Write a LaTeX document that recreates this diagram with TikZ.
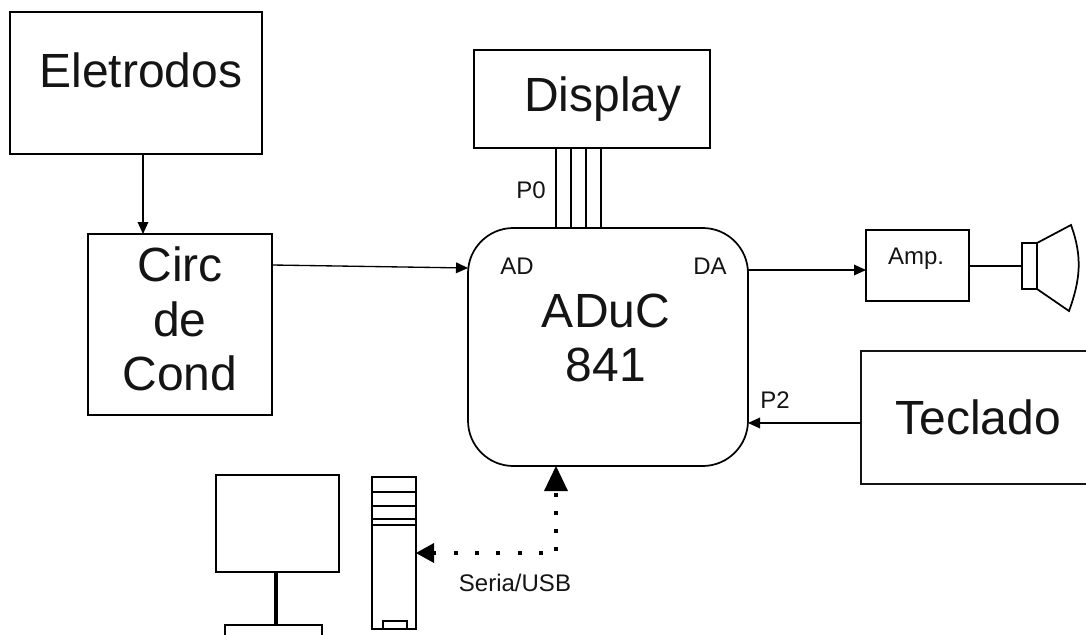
\documentclass[tikz,border=0pt]{standalone}
\usepackage{fontspec}
\setmainfont{Liberation Sans}
\usetikzlibrary{arrows.meta}
\definecolor{palette_texte}{HTML}{141414}
\tikzset{
    box/.style={draw,line width=1.3pt,inner sep=0pt,outer sep=0pt},
    bigtext/.style={color=palette_texte,inner sep=0pt,align=center,font=\fontsize{36pt}{41pt}\selectfont},
    smalltext/.style={color=palette_texte,inner sep=0pt,font=\fontsize{18pt}{21pt}\selectfont},
    signal/.style={line width=1pt,-{Triangle[length=9pt,width=8pt]}},
    serial/.style={line width=3pt}
}
\begin{document}
\begin{tikzpicture}[x=0.75pt,y=-0.75pt]
    \clip (0,0) rectangle (1086,635);

    \node[box,minimum width=189pt,minimum height=106.5pt] (eletrodos) at (136,83) {};
    \node[bigtext] (eletrodos_txt) at (141,70) {Eletrodos};
    \node[box,minimum width=177pt,minimum height=73.5pt] (display) at (592,99) {};
    \node[bigtext] (display_txt) at (603,99) {Display};
    \node[box,minimum width=138pt,minimum height=135.75pt] (circ) at (180,324.5) {};
    \node[bigtext] (circ_txt) at (180,319) {Circ\\de\\Cond};
    \node[box,minimum width=210pt,minimum height=178.5pt,rounded corners=34pt] (mcu) at (608,347) {};
    \node[bigtext] (mcu_txt) at (606,338) {ADuC\\841};
    \node[box,minimum width=77.25pt,minimum height=53.25pt] (amp) at (917.5,265.5) {};
    \node[smalltext] (amp_txt) at (916,259) {Amp.};
    \node[box,bigtext,minimum width=175.5pt,minimum height=99.75pt] (teclado) at (978,417.5) {Teclado};

    \node[smalltext] (ad) at (517,266) {AD};
    \node[smalltext] (da) at (710,266) {DA};
    \node[smalltext] (p0) at (531,190) {P0};
    \node[smalltext] (p2) at (775,400) {P2};
    \node[smalltext] (serial_txt) at (515,583) {Seria/USB};

    % computer
    \node[box,minimum width=92.25pt,minimum height=72.75pt] (monitor) at (277.5,523.5) {};
    \node[box,minimum width=72.75pt,minimum height=37.5pt] (base) at (273.5,650) {};
    \node[box,minimum width=33pt,minimum height=114pt] (tower) at (394,553) {};
    \node[box,line width=1pt,minimum width=18pt,minimum height=6pt] (button) at (395,625) {};
    \draw[line width=3pt] (276,0 |- monitor.south) -- (276,0 |- base.north);
    \foreach \y in {492,506,519,525}
        \draw[line width=1.1pt] (tower.west |- 0,\y) -- (tower.east |- 0,\y);

    % speaker
    \node[box,minimum width=11.25pt,minimum height=34.5pt] (neck) at (1029.5,266) {};
    \coordinate (cone_top) at (1071,225);
    \coordinate (cone_bottom) at (1069,311);
    \draw[line width=1.3pt] (neck.north east) -- (cone_top) to[out=290,in=70] (cone_bottom) -- (neck.south east);
    \draw[line width=1.3pt] (amp.east |- neck.west) -- (neck.west);

    \draw[signal] (143,0 |- eletrodos.south) -- (143,0 |- circ.north);
    \draw[signal] (circ.east |- 0,265) -- (mcu.west |- 0,268);
    \draw[signal] (mcu.east |- 0,270) -- (amp.west |- 0,270);
    \draw[signal] (teclado.west |- 0,423) -- (mcu.east |- 0,423);

    \foreach \x in {556,571,586,601}
        \draw[line width=1.3pt] (\x,0 |- display.south) -- (\x,0 |- mcu.north);

    % serial link
    \coordinate (corner) at (556,553);
    \draw[serial,dash pattern=on 3pt off 13pt,dash phase=6.25pt] (corner) -- (tower.east |- corner);
    \draw[serial,dash pattern=on 3pt off 10.5pt,dash phase=12pt] (corner) -- (corner |- mcu.south);
    \fill (tower.east |- corner) -- ++(18,-10) -- ++(0,20) -- cycle;
    \fill (corner |- mcu.south) -- ++(-12,25) -- ++(24,0) -- cycle;
\end{tikzpicture}
\end{document}
